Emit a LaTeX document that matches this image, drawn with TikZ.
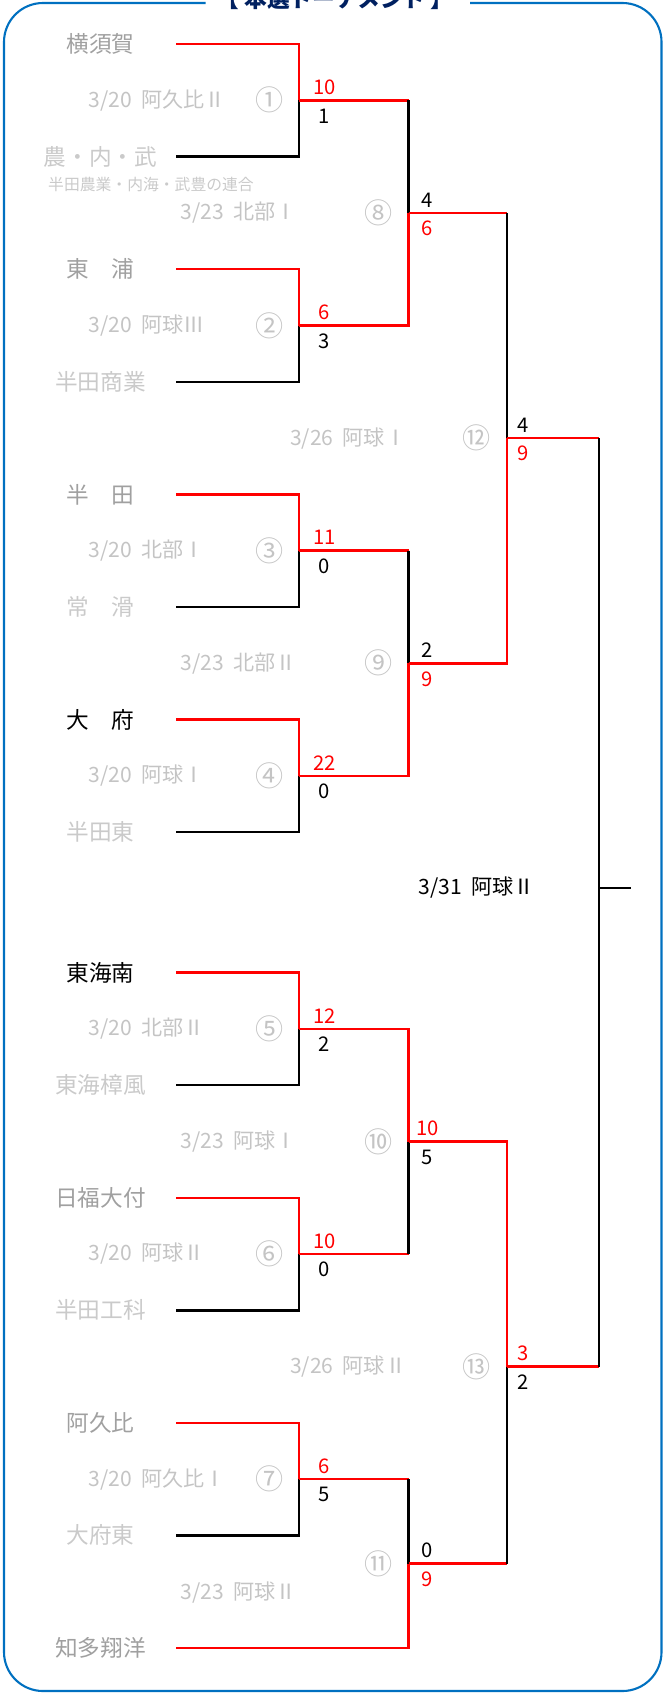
\documentclass[tikz,border=0pt]{standalone}
\usepackage{fontspec}
\newfontfamily\jp{Noto Sans CJK JP}
\definecolor{wongray}{HTML}{A0A0A0}
\definecolor{outgray}{HTML}{CACACA}
\definecolor{infogray}{HTML}{C4C4C4}
\definecolor{frameblue}{HTML}{0070C0}
\definecolor{titlenavy}{HTML}{002060}
\newcommand{\gameday}[2]{#1\hspace{0.45em}#2}

\begin{document}
\begin{tikzpicture}[
  x=0.02cm,
  y=-0.02cm,
  team/.style={
    font=\jp\fontsize{12.9}{14}\selectfont,
    minimum width=3.02cm,
    inner sep=0pt
  },
  teamout/.style={team, text=outgray},
  teamup/.style={team, text=wongray},
  teamlive/.style={team, text=black},
  datelbl/.style={font=\jp\fontsize{12}{13}\selectfont, text=infogray, anchor=west, inner sep=0pt},
  gamenum/.style={font=\jp\fontsize{16}{17}\selectfont, text=infogray, inner sep=0pt},
  ptwin/.style={font=\jp\fontsize{11.5}{12}\selectfont, text=red, inner sep=0pt},
  ptlose/.style={font=\jp\fontsize{11.5}{12}\selectfont, text=black, inner sep=0pt},
  win/.style={draw=red, line width=1.4pt},
  lose/.style={draw=black, line width=1.4pt}
]
\useasboundingbox (0,0) rectangle (665,1694);
\draw[frameblue, line width=1.2pt, rounded corners=0.78cm]
  (205.5,3) -- (4,3) -- (4,1691) -- (661.5,1691) -- (661.5,3) -- (470,3);
\node[font=\jp\bfseries\fontsize{12.9}{14}\selectfont, text=titlenavy] (ttl) at (335,-1) {【 本選トーナメント 】};

% teams
\node[teamup]   (t1)  at (100.5,44.0)   {横須賀};
\node[teamout]  (t2)  at (100.5,156.6)  {農・内・武};
\node[font=\jp\fontsize{9}{10}\selectfont, text=outgray, inner sep=0pt] (t2note) at (151,184) {半田農業・内海・武豊の連合};
\node[teamup]   (t3)  at (100.5,269.2)  {東　浦};
\node[teamout]  (t4)  at (100.5,381.8)  {半田商業};
\node[teamup]   (t5)  at (100.5,494.4)  {半　田};
\node[teamout]  (t6)  at (100.5,607.0)  {常　滑};
\node[teamlive] (t7)  at (100.5,719.6)  {大　府};
\node[teamout]  (t8)  at (100.5,832.2)  {半田東};
\node[teamlive] (t9)  at (100.5,972.7)  {東海南};
\node[teamout]  (t10) at (100.5,1085.2) {東海樟風};
\node[teamup]   (t11) at (100.5,1197.8) {日福大付};
\node[teamout]  (t12) at (100.5,1310.3) {半田工科};
\node[teamup]   (t13) at (100.5,1422.9) {阿久比};
\node[teamout]  (t14) at (100.5,1535.4) {大府東};
\node[teamup]   (t15) at (100.5,1648.0) {知多翔洋};

% match points
\coordinate (m1)  at (299,100.3);
\coordinate (m2)  at (299,325.5);
\coordinate (m3)  at (299,550.7);
\coordinate (m4)  at (299,775.9);
\coordinate (m5)  at (299,1029.0);
\coordinate (m6)  at (299,1254.0);
\coordinate (m7)  at (299,1479.2);
\coordinate (m8)  at (408.5,212.9);
\coordinate (m9)  at (408.5,663.3);
\coordinate (m10) at (408.5,1141.5);
\coordinate (m11) at (408.5,1563.6);
\coordinate (m12) at (506.8,438.1);
\coordinate (m13) at (506.8,1366.7);
\coordinate (fin) at (598.8,888);
\coordinate (champ) at (631,888);

% first round
\draw[win]  (t1.east) -| (m1);
\draw[lose] (t2.east) -| (m1);
\draw[win]  (t3.east) -| (m2);
\draw[lose] (t4.east) -| (m2);
\draw[win]  (t5.east) -| (m3);
\draw[lose] (t6.east) -| (m3);
\draw[win]  (t7.east) -| (m4);
\draw[lose] (t8.east) -| (m4);
\draw[win]  (t9.east) -| (m5);
\draw[lose] (t10.east) -| (m5);
\draw[win]  (t11.east) -| (m6);
\draw[lose] (t12.east) -| (m6);
\draw[win]  (t13.east) -| (m7);
\draw[lose] (t14.east) -| (m7);
\draw[win]  (t15.east) -| (m11);

% second round
\draw[win]  (m1) -- (m1 -| m8);
\draw[lose] (m1 -| m8) -- (m8);
\draw[win]  (m2) -| (m8);
\draw[win]  (m3) -- (m3 -| m9);
\draw[lose] (m3 -| m9) -- (m9);
\draw[win]  (m4) -| (m9);
\draw[win]  (m5) -| (m10);
\draw[win]  (m6) -- (m6 -| m10);
\draw[lose] (m6 -| m10) -- (m10);
\draw[win]  (m7) -- (m7 -| m11);
\draw[lose] (m7 -| m11) -- (m11);

% third round
\draw[win]  (m8) -- (m8 -| m12);
\draw[lose] (m8 -| m12) -- (m12);
\draw[win]  (m9) -| (m12);
\draw[win]  (m10) -| (m13);
\draw[win]  (m11) -- (m11 -| m13);
\draw[lose] (m11 -| m13) -- (m13);

% final
\draw[win]  (m12) -- (m12 -| fin);
\draw[win]  (m13) -- (m13 -| fin);
\draw[lose] (m12 -| fin) -- (fin) -- (m13 -| fin);
\draw[lose] (fin) -- (champ);

% scores
\node[ptwin]  (a1)  at (324.5,87.3)   {10};
\node[ptlose] (b1)  at (324.5,115.8)  {1};
\node[ptwin]  (a2)  at (324.5,312.5)  {6};
\node[ptlose] (b2)  at (324.5,341.0)  {3};
\node[ptwin]  (a3)  at (324.5,537.7)  {11};
\node[ptlose] (b3)  at (324.5,566.2)  {0};
\node[ptwin]  (a4)  at (324.5,762.9)  {22};
\node[ptlose] (b4)  at (324.5,791.4)  {0};
\node[ptwin]  (a5)  at (324.5,1016.0) {12};
\node[ptlose] (b5)  at (324.5,1044.5) {2};
\node[ptwin]  (a6)  at (324.5,1241.0) {10};
\node[ptlose] (b6)  at (324.5,1269.5) {0};
\node[ptwin]  (a7)  at (324.5,1466.2) {6};
\node[ptlose] (b7)  at (324.5,1494.7) {5};
\node[ptlose] (a8)  at (427.5,199.9)  {4};
\node[ptwin]  (b8)  at (427.5,228.4)  {6};
\node[ptlose] (a9)  at (427.5,650.3)  {2};
\node[ptwin]  (b9)  at (427.5,678.8)  {9};
\node[ptwin]  (a10) at (427.5,1128.5) {10};
\node[ptlose] (b10) at (427.5,1157.0) {5};
\node[ptlose] (a11) at (427.5,1550.6) {0};
\node[ptwin]  (b11) at (427.5,1579.1) {9};
\node[ptlose] (a12) at (522.7,425.1)  {4};
\node[ptwin]  (b12) at (522.7,453.6)  {9};
\node[ptwin]  (a13) at (522.7,1353.7) {3};
\node[ptlose] (b13) at (522.7,1382.2) {2};

% dates and game numbers
\node[datelbl] (d1)  at (88.3,100.3)   {\gameday{3/20}{阿久比Ⅱ}};
\node[gamenum] (n1)  at (269.7,100.3)  {①};
\node[datelbl] (d2)  at (88.3,325.5)   {\gameday{3/20}{阿球Ⅲ}};
\node[gamenum] (n2)  at (269.7,325.5)  {②};
\node[datelbl] (d3)  at (88.3,550.7)   {\gameday{3/20}{北部Ⅰ}};
\node[gamenum] (n3)  at (269.7,550.7)  {③};
\node[datelbl] (d4)  at (88.3,775.9)   {\gameday{3/20}{阿球Ⅰ}};
\node[gamenum] (n4)  at (269.7,775.9)  {④};
\node[datelbl] (d5)  at (88.3,1029.0)  {\gameday{3/20}{北部Ⅱ}};
\node[gamenum] (n5)  at (269.7,1029.0) {⑤};
\node[datelbl] (d6)  at (88.3,1254.0)  {\gameday{3/20}{阿球Ⅱ}};
\node[gamenum] (n6)  at (269.7,1254.0) {⑥};
\node[datelbl] (d7)  at (88.3,1479.2)  {\gameday{3/20}{阿久比Ⅰ}};
\node[gamenum] (n7)  at (269.7,1479.2) {⑦};
\node[datelbl] (d8)  at (180.2,212.9)  {\gameday{3/23}{北部Ⅰ}};
\node[gamenum] (n8)  at (378.5,212.9)  {⑧};
\node[datelbl] (d9)  at (180.2,663.3)  {\gameday{3/23}{北部Ⅱ}};
\node[gamenum] (n9)  at (378.5,663.3)  {⑨};
\node[datelbl] (d10) at (180.2,1141.5) {\gameday{3/23}{阿球Ⅰ}};
\node[gamenum] (n10) at (378.5,1141.5) {⑩};
\node[datelbl] (d11) at (180.2,1593.0) {\gameday{3/23}{阿球Ⅱ}};
\node[gamenum] (n11) at (378.5,1563.6) {⑪};
\node[datelbl] (d12) at (289.7,438.1)  {\gameday{3/26}{阿球Ⅰ}};
\node[gamenum] (n12) at (476.7,438.1)  {⑫};
\node[datelbl] (d13) at (289.7,1366.7) {\gameday{3/26}{阿球Ⅱ}};
\node[gamenum] (n13) at (476.7,1366.7) {⑬};
\node[datelbl, text=black] (dfin) at (418,888) {\gameday{3/31}{阿球Ⅱ}};
\end{tikzpicture}
\end{document}
